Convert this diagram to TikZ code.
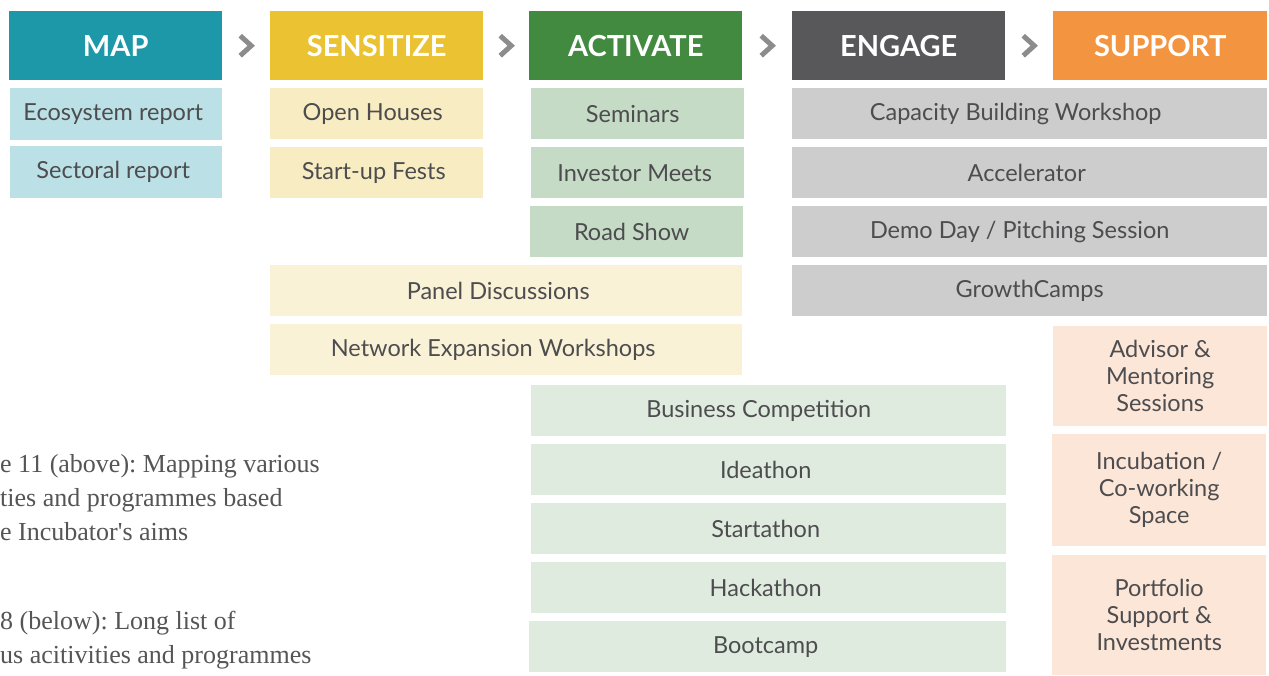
\documentclass[tikz,border=0pt]{standalone}
\usepackage{fontspec}
\setmainfont{Lato}
\newfontfamily\capfont{Liberation Serif}
\usetikzlibrary{calc,
	positioning}

\definecolor{mapdark}{HTML}{1C98A8}
\definecolor{maplight}{HTML}{BBE1E6}
\definecolor{sensdark}{HTML}{EBC232}
\definecolor{senslight}{HTML}{F8EDC2}
\definecolor{senspale}{HTML}{FAF2D7}
\definecolor{actdark}{HTML}{418A3F}
\definecolor{actlight}{HTML}{C5DBC6}
\definecolor{actpale}{HTML}{E0EBE0}
\definecolor{engdark}{HTML}{58585A}
\definecolor{englight}{HTML}{CCCDCC}
\definecolor{supdark}{HTML}{F39440}
\definecolor{suplight}{HTML}{FCE6D8}
\definecolor{txt}{HTML}{4D4D4F}
\definecolor{chevgray}{HTML}{8C8C8C}
\definecolor{captxt}{HTML}{555555}

\begin{document}
\frenchspacing
\begin{tikzpicture}[x=1pt,y=-1pt,nudge/.style={execute at begin node={\hspace*{#1}}}]
    \tikzstyle{head}=[rectangle,anchor=north west,inner sep=0pt,minimum width=213pt,minimum height=69pt,text=white,font=\fontsize{29}{34}\selectfont\bfseries]
    \tikzstyle{tile}=[rectangle,anchor=north west,inner sep=0pt,minimum height=51pt,align=center,text=txt,font=\fontsize{23.5}{27}\selectfont]
    \tikzstyle{chev}=[draw=chevgray,line width=5pt,miter limit=10]
    \tikzstyle{caption}=[anchor=base west,inner sep=0pt,align=left,text=captxt,font=\capfont\fontsize{26}{34}\selectfont]
    \useasboundingbox (0,0) rectangle (1269,675);
    \clip (0,0) rectangle (1269,675);
    % stage headers
    \node[head,fill=mapdark] (map) at (9,11) {MAP};
    \node[head,fill=sensdark] (sens) at (270,11) {SENSITIZE};
    \node[head,fill=actdark] (act) at (529,11) {ACTIVATE};
    \node[head,fill=engdark] (eng) at (792,11) {ENGAGE};
    \node[head,fill=supdark,minimum width=214pt] (sup) at (1053,11) {SUPPORT};
    \draw[chev] ($(map.east)!0.5!(sens.west)$) +(-6,-10) -- +(5,0) -- +(-6,10);
    \draw[chev] ($(sens.east)!0.5!(act.west)$) +(-6,-10) -- +(5,0) -- +(-6,10);
    \draw[chev] ($(act.east)!0.5!(eng.west)$) +(-6,-10) -- +(5,0) -- +(-6,10);
    \draw[chev] ($(eng.east)!0.5!(sup.west)$) +(-6,-10) -- +(5,0) -- +(-6,10);
    % map
    \node[tile,fill=maplight,minimum width=212pt,minimum height=52pt,nudge=-6pt] (eco) at (10,88) {Ecosystem report};
    \node[tile,fill=maplight,minimum width=212pt,minimum height=52pt,nudge=-6pt] (sect) at (10,146) {Sectoral report};
    % sensitize
    \node[tile,fill=senslight,minimum width=213pt,nudge=-8pt] (open) at (270,88) {Open Houses};
    \node[tile,fill=senslight,minimum width=213pt,nudge=-6pt] (fests) at (270,147) {Start-up Fests};
    \node[tile,fill=senspale,minimum width=472pt,nudge=-16pt] (panel) at (270,265) {Panel Discussions};
    \node[tile,fill=senspale,minimum width=472pt,nudge=-26pt] (netw) at (270,324) {Network Expansion Workshops};
    % activate
    \node[tile,fill=actlight,minimum width=213pt,nudge=-10pt] (sem) at (531,88) {Seminars};
    \node[tile,fill=actlight,minimum width=213pt,nudge=-6pt] (inv) at (531,147) {Investor Meets};
    \node[tile,fill=actlight,minimum width=213pt,nudge=-10pt] (road) at (530,206) {Road Show};
    \node[tile,fill=actpale,minimum width=475pt,nudge=-20pt] (biz) at (531,385) {Business Competition};
    \node[tile,fill=actpale,minimum width=475pt,nudge=-6pt] (idea) at (531,444) {Ideathon};
    \node[tile,fill=actpale,minimum width=475pt,nudge=-6pt] (start) at (531,503) {Startathon};
    \node[tile,fill=actpale,minimum width=475pt,nudge=-6pt] (hack) at (531,562) {Hackathon};
    \node[tile,fill=actpale,minimum width=477pt,nudge=-4pt] (boot) at (529,621) {Bootcamp};
    % engage
    \node[tile,fill=englight,minimum width=475pt,nudge=-28pt] (capb) at (792,88) {Capacity Building Workshop};
    \node[tile,fill=englight,minimum width=475pt,nudge=-6pt] (accel) at (792,147) {Accelerator};
    \node[tile,fill=englight,minimum width=475pt,nudge=-20pt] (demo) at (792,206) {Demo Day / Pitching Session};
    \node[tile,fill=englight,minimum width=475pt] (growth) at (792,265) {GrowthCamps};
    % support
    \node[tile,fill=suplight,minimum width=214pt,minimum height=100pt] (adv) at (1053,326) {Advisor \&\\Mentoring\\Sessions};
    \node[tile,fill=suplight,minimum width=214pt,minimum height=112pt] (incu) at (1052,434) {Incubation /\\Co-working\\Space};
    \node[tile,fill=suplight,minimum width=214pt,minimum height=120pt] (port) at (1052,555) {Portfolio\\Support \&\\Investments};
    % captions
    \node[caption] (capa) at (0,540) {e 11 (above): Mapping various\\ties and programmes based\\e Incubator's aims};
    \node[caption] (capb2) at (0,663) {8 (below): Long list of\\us acitivities and programmes};
\end{tikzpicture}
\end{document}
